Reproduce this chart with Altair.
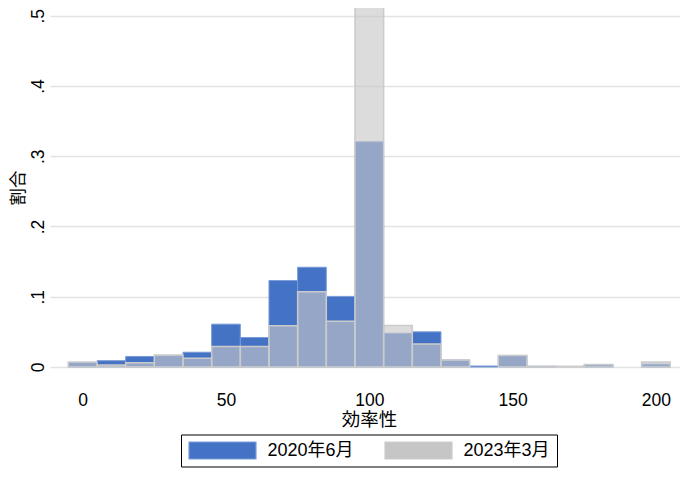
import altair as alt
import pandas as pd

# ---- data ----
bin_centers = [0, 10, 20, 30, 40, 50, 60, 70, 80, 90, 100,
               110, 120, 130, 140, 150, 160, 170, 180, 190, 200]
share_2020 = [0.0065, 0.009, 0.015, 0.016, 0.021, 0.061, 0.042, 0.123, 0.142, 0.1005, 0.3205,
              0.048, 0.050, 0.010, 0.0014, 0.0165, 0.001, 0.0, 0.0035, 0.0, 0.004]
share_2023 = [0.007, 0.003, 0.006, 0.017, 0.0125, 0.0293, 0.0293, 0.0588, 0.107, 0.065, 0.5137,
              0.059, 0.0327, 0.010, 0.0, 0.0165, 0.001, 0.001, 0.0035, 0.0, 0.007]
series_labels = ["2020年6月", "2023年3月"]
x_ticks = [0, 50, 100, 150, 200]
y_ticks = [0, 0.1, 0.2, 0.3, 0.4, 0.5]
bin_width = 10

rows = []
for name, vals in zip(series_labels, [share_2020, share_2023]):
    for c, v in zip(bin_centers, vals):
        if v > 0:
            rows.append({"series": name, "start": c - bin_width / 2,
                         "end": c + bin_width / 2, "share": v})
df = pd.DataFrame(rows)

FONT = "Liberation Sans, Noto Sans CJK JP"

fill_scale = alt.Scale(domain=series_labels, range=["#4472C4", "#C6C6C6"])
stroke_scale = alt.Scale(domain=series_labels, range=["#7A9BD8", "#CBCBCB"])
fop_scale = alt.Scale(domain=series_labels, range=[1.0, 0.62])

x_enc = alt.X(
    "start:Q",
    scale=alt.Scale(domain=[-11.4, 208.4], nice=False, zero=False, padding=0),
    axis=alt.Axis(values=x_ticks, labelPadding=24.5, labelFontSize=17.5, labelColor="black",
                  labelFont=FONT, labelFlush=False, domain=False, ticks=False, grid=False,
                  title="効率性", titleFont=FONT, titleFontSize=18.5, titleFontWeight="normal",
                  titleColor="black", titleBaseline="middle", titleAlign="center",
                  titleX=319, titleY=52),
)
y_enc = alt.Y(
    "share:Q",
    scale=alt.Scale(domain=[0, 0.511], nice=False, padding=0),
    axis=alt.Axis(values=y_ticks,
                  labelExpr="datum.value == 0 ? '0' : replace(format(datum.value, '.1f'), '0.', '.')",
                  labelAngle=270, labelAlign="center", labelBaseline="alphabetic",
                  labelPadding=7, labelFontSize=17.5, labelColor="black", labelFont=FONT,
                  labelFlush=False, domain=False, ticks=False, grid=True,
                  gridColor="#E3E3E3", gridWidth=1.3,
                  title="割合", titleFont=FONT, titleFontSize=17.5, titleFontWeight="normal",
                  titleColor="black", titleAngle=270, titleAlign="center",
                  titleBaseline="middle", titleX=-32, titleY=179.5),
)

legend = alt.Legend(title=None, orient="none", legendX=131, legendY=426.5,
                    direction="horizontal", labelFont=FONT, labelFontSize=18,
                    labelColor="black", labelOffset=10.5, columnPadding=30,
                    padding=7, strokeColor="black", fillColor="white",
                    symbolType="M-1,-0.26L1,-0.26L1,0.26L-1,0.26Z",
                    symbolSize=4489, clipHeight=18, symbolStrokeWidth=1.2)


def bars(name, sw):
    return alt.Chart(df).transform_filter(
        alt.datum.series == name
    ).mark_bar(strokeWidth=sw, orient="vertical").encode(
        x=x_enc,
        x2="end:Q",
        y=y_enc,
        y2=alt.datum(0),
        color=alt.Color("series:N", scale=fill_scale, legend=legend, title=None),
        stroke=alt.Stroke("series:N", scale=stroke_scale, legend=legend, title=None),
        fillOpacity=alt.FillOpacity("series:N", scale=fop_scale, legend=legend, title=None),
    )


chart = alt.layer(bars("2020年6月", 1.0), bars("2023年3月", 1.5)).properties(
    width=630, height=359,
    autosize=alt.AutoSizeParams(type="none"),
    padding={"left": 42, "top": 0, "right": 0, "bottom": 102},
    background="white",
).configure_view(strokeWidth=0)

chart.save("out.html", embed_options={"renderer": "svg", "actions": False})
